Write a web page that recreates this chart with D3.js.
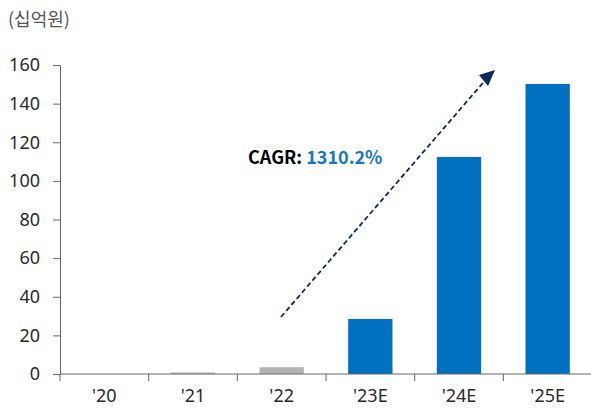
<!DOCTYPE html>
<html>
<head>
<meta charset="utf-8">
<script src="https://cdn.jsdelivr.net/npm/d3@7"></script>
<style>
  html, body { margin: 0; padding: 0; background: #fff; }
  svg { display: block; font-family: "Noto Sans CJK KR", "Noto Sans", sans-serif; }
</style>
</head>
<body>
<svg id="chart" width="591" height="408"></svg>
<script>
// Annual values (십억원); estimates marked with E
const categories = ["'20", "'21", "'22", "'23E", "'24E", "'25E"];
const values = [0, 0.8, 3.5, 28.5, 112.4, 150.2];
const estimated = [false, false, false, true, true, true];
const yTicks = [0, 20, 40, 60, 80, 100, 120, 140, 160];
const unitLabel = "(십억원)";
const cagrLabel = "CAGR:";
const cagrValue = "1310.2%";

const svg = d3.select("#chart");
const margin = { left: 60, top: 65, bottom: 374, right: 592 };
const labelFont = "'Noto Sans', sans-serif";

const x = d3.scaleBand()
  .domain(categories)
  .range([margin.left, margin.right])
  .paddingInner(0.5)
  .paddingOuter(0.25);

const y = d3.scaleLinear()
  .domain([0, 160])
  .range([margin.bottom, margin.top]);

// Bars: actuals in grey, estimates in blue
svg.append("g")
  .selectAll("rect")
  .data(values)
  .join("rect")
  .attr("x", (d, i) => x(categories[i]))
  .attr("y", d => y(d))
  .attr("width", x.bandwidth())
  .attr("height", d => y(0) - y(d))
  .attr("fill", (d, i) => estimated[i] ? "#0070c0" : "#b3b3b3");

// Y axis
const yAxis = svg.append("g")
  .attr("transform", `translate(${margin.left},0)`)
  .call(d3.axisLeft(y).tickValues(yTicks).tickSize(7).tickPadding(13).tickSizeOuter(0));
yAxis.select(".domain").attr("stroke", "#666");
yAxis.selectAll(".tick line").attr("stroke", "#666");
yAxis.selectAll(".tick text")
  .attr("fill", "#2a2a2a")
  .style("font-size", "18px")
  .style("font-family", labelFont);

// X axis: ticks on band boundaries
const xAxisG = svg.append("g")
  .attr("transform", `translate(0,${y(0)})`);
xAxisG.append("line")
  .attr("x1", margin.left).attr("x2", margin.right)
  .attr("stroke", "#666");
const step = x.step();
const bounds = d3.range(categories.length).map(i => margin.left + i * step);
xAxisG.selectAll(".bt")
  .data(bounds)
  .join("line")
  .attr("x1", d => d).attr("x2", d => d)
  .attr("y1", 0).attr("y2", 7)
  .attr("stroke", "#666");
xAxisG.selectAll(".lbl")
  .data(categories)
  .join("text")
  .attr("x", d => x(d) + x.bandwidth() / 2)
  .attr("y", 28)
  .attr("text-anchor", "middle")
  .attr("fill", "#2a2a2a")
  .style("font-size", "18px")
  .style("font-family", labelFont)
  .text(d => d);

// Unit label
svg.append("text")
  .attr("x", 8).attr("y", 26)
  .attr("fill", "#555")
  .style("font-size", "18px")
  .text(unitLabel);

// Growth arrow
svg.append("line")
  .attr("x1", 281).attr("y1", 317)
  .attr("x2", 488).attr("y2", 77)
  .attr("stroke", "#0d2a5e")
  .attr("stroke-width", 1.8)
  .attr("stroke-dasharray", "5,3");
svg.append("path")
  .attr("d", "M495,70 L479,75 L488,86 Z")
  .attr("fill", "#0d2a5e");

// CAGR annotation
const cagr = svg.append("text")
  .attr("x", 248).attr("y", 164)
  .style("font-size", "18px")
  .style("font-weight", "bold");
cagr.append("tspan").attr("fill", "#000").text(cagrLabel);
cagr.append("tspan").attr("fill", "#1478c8").attr("dx", 4).text(cagrValue);
</script>
</body>
</html>
